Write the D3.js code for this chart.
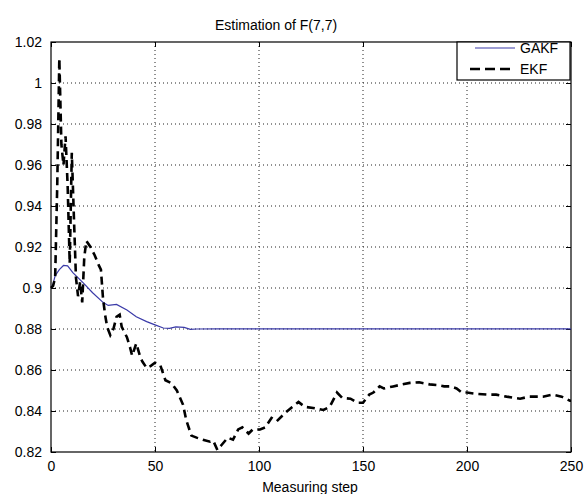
<!DOCTYPE html>
<html>
<head>
<meta charset="utf-8">
<script src="https://cdn.jsdelivr.net/npm/d3@7"></script>
<style>
  body { margin: 0; background: #fff; }
  svg { display: block; font-family: 'Liberation Sans', Arial, sans-serif; }
</style>
</head>
<body>
<div id="chart"></div>
<script>
// tick values for both axes
const xTicks = [0, 50, 100, 150, 200, 250];
const yTicks = [0.82, 0.84, 0.86, 0.88, 0.9, 0.92, 0.94, 0.96, 0.98, 1, 1.02];

// GAKF estimate
const gakfSteps = [0, 1, 2, 4, 6, 8, 10.5, 15.5, 20, 25, 27.5, 31.5, 36.5, 41, 46, 50, 54, 57, 60, 64, 67, 70, 80, 120, 180, 250];
const gakfValues = [0.900, 0.902, 0.906, 0.909, 0.911, 0.9108, 0.9075, 0.9025, 0.8977, 0.893, 0.8915, 0.892, 0.8893, 0.886, 0.8836, 0.882, 0.8805, 0.8803, 0.881, 0.8808, 0.8798, 0.880, 0.8801, 0.8801, 0.8801, 0.8801];

// EKF estimate
const ekfSteps = [0, 1, 2, 3, 4, 5, 6, 7, 8, 9, 10, 11, 12, 13, 14, 15, 16, 17, 19, 21, 23, 24, 25, 26, 27, 28.5, 30, 31.5, 33, 34, 36.5, 38, 39, 41, 43, 44, 46, 48, 50, 52.5, 55, 58, 60.5, 63.5, 65, 67.5, 70, 73, 76.5, 78, 80, 82, 85, 87.5, 90, 92, 95, 97, 100.5, 103, 106, 108.5, 112.5, 116, 119, 122, 126, 131, 134, 137.5, 140, 144, 147.5, 150, 153, 155, 158, 160, 164.5, 169, 172.5, 177, 182, 185.5, 189, 192, 195, 197.5, 200, 205, 209.5, 214, 219, 225.5, 230, 236.5, 241, 245.5, 249.5, 250];
const ekfValues = [0.900, 0.901, 0.905, 0.950, 1.012, 0.970, 0.960, 0.974, 0.950, 0.912, 0.966, 0.935, 0.905, 0.896, 0.903, 0.893, 0.915, 0.923, 0.920, 0.916, 0.911, 0.909, 0.895, 0.887, 0.881, 0.877, 0.880, 0.886, 0.887, 0.881, 0.876, 0.871, 0.867, 0.873, 0.866, 0.864, 0.861, 0.862, 0.8635, 0.8625, 0.855, 0.8535, 0.850, 0.843, 0.8356, 0.828, 0.827, 0.826, 0.825, 0.8255, 0.821, 0.8234, 0.827, 0.826, 0.831, 0.832, 0.829, 0.831, 0.831, 0.832, 0.8366, 0.835, 0.839, 0.842, 0.8444, 0.842, 0.8415, 0.8405, 0.842, 0.849, 0.8464, 0.846, 0.844, 0.844, 0.848, 0.849, 0.852, 0.851, 0.852, 0.853, 0.8537, 0.854, 0.853, 0.8527, 0.852, 0.852, 0.851, 0.849, 0.849, 0.8483, 0.848, 0.848, 0.847, 0.846, 0.847, 0.847, 0.848, 0.847, 0.845, 0.845];

const seriesNames = ['GAKF', 'EKF'];

const width = 585, height = 494;
const margin = { top: 42, right: 14, bottom: 42, left: 51 };
const innerW = width - margin.left - margin.right;
const innerH = height - margin.top - margin.bottom;

const svg = d3.select('#chart').append('svg')
  .attr('width', width)
  .attr('height', height);

const g = svg.append('g')
  .attr('transform', `translate(${margin.left},${margin.top})`);

const x = d3.scaleLinear().domain([0, 250]).range([0, innerW]);
const y = d3.scaleLinear().domain([0.82, 1.02]).range([innerH, 0]);

// dotted grid
g.append('g').selectAll('line')
  .data(xTicks.slice(1, -1))
  .join('line')
  .attr('x1', d => x(d)).attr('x2', d => x(d))
  .attr('y1', 0).attr('y2', innerH)
  .attr('stroke', '#222').attr('stroke-width', 1)
  .attr('stroke-dasharray', '1,3');

g.append('g').selectAll('line')
  .data(yTicks.slice(1, -1))
  .join('line')
  .attr('x1', 0).attr('x2', innerW)
  .attr('y1', d => y(d)).attr('y2', d => y(d))
  .attr('stroke', '#222').attr('stroke-width', 1)
  .attr('stroke-dasharray', '1,3');

// axes, inward ticks like matlab
const fmtY = d => d3.format('.2f')(d).replace(/0$/, '').replace(/\.0$/, '').replace(/\.$/, '');
const xAxis = g.append('g')
  .attr('transform', `translate(0,${innerH})`)
  .call(d3.axisBottom(x).tickValues(xTicks).tickSize(-5).tickPadding(9).tickFormat(d3.format('d')));
const yAxis = g.append('g')
  .call(d3.axisLeft(y).tickValues(yTicks).tickSize(-5).tickPadding(9).tickFormat(fmtY));
g.append('g')
  .call(d3.axisTop(x).tickValues(xTicks).tickSize(-5).tickFormat(''));
g.append('g')
  .attr('transform', `translate(${innerW},0)`)
  .call(d3.axisRight(y).tickValues(yTicks).tickSize(-5).tickFormat(''));

g.selectAll('.domain').remove();
g.selectAll('.tick line').attr('stroke', '#000');
[xAxis, yAxis].forEach(a => a.selectAll('text')
  .attr('font-size', 14)
  .attr('fill', '#000')
  .attr('font-family', "'Liberation Sans', Arial, sans-serif"));

// plot box
g.append('rect')
  .attr('width', innerW).attr('height', innerH)
  .attr('fill', 'none').attr('stroke', '#000').attr('stroke-width', 1.2);

// lines
const line = d3.line()
  .x(d => x(d[0]))
  .y(d => y(d[1]));

g.append('path')
  .datum(gakfSteps.map((s, i) => [s, gakfValues[i]]))
  .attr('d', line)
  .attr('fill', 'none')
  .attr('stroke', '#3a3aa8')
  .attr('stroke-width', 1.2);

g.append('path')
  .datum(ekfSteps.map((s, i) => [s, ekfValues[i]]))
  .attr('d', line)
  .attr('fill', 'none')
  .attr('stroke', '#000')
  .attr('stroke-width', 2.6)
  .attr('stroke-dasharray', '8,5');

// legend box
const legend = g.append('g')
  .attr('transform', `translate(${innerW - 114},0)`);
legend.append('rect')
  .attr('width', 113).attr('height', 38)
  .attr('fill', '#fff').attr('stroke', '#000').attr('stroke-width', 1.2);
legend.append('line')
  .attr('x1', 18).attr('x2', 58).attr('y1', 6).attr('y2', 6)
  .attr('stroke', '#3a3aa8').attr('stroke-width', 1.2);
legend.append('line')
  .attr('x1', 13).attr('x2', 56).attr('y1', 27).attr('y2', 27)
  .attr('stroke', '#000').attr('stroke-width', 2.6)
  .attr('stroke-dasharray', '10,5');
legend.selectAll('text.lbl')
  .data(seriesNames)
  .join('text')
  .attr('class', 'lbl')
  .attr('x', 63)
  .attr('y', (d, i) => i === 0 ? 11 : 32)
  .attr('font-size', 14)
  .text(d => d);

// title and x label
svg.append('text')
  .attr('x', 276).attr('y', 30)
  .attr('text-anchor', 'middle')
  .attr('font-size', 14)
  .text('Estimation of F(7,7)');

svg.append('text')
  .attr('x', 310).attr('y', 492)
  .attr('text-anchor', 'middle')
  .attr('font-size', 14)
  .text('Measuring step');
</script>
</body>
</html>
